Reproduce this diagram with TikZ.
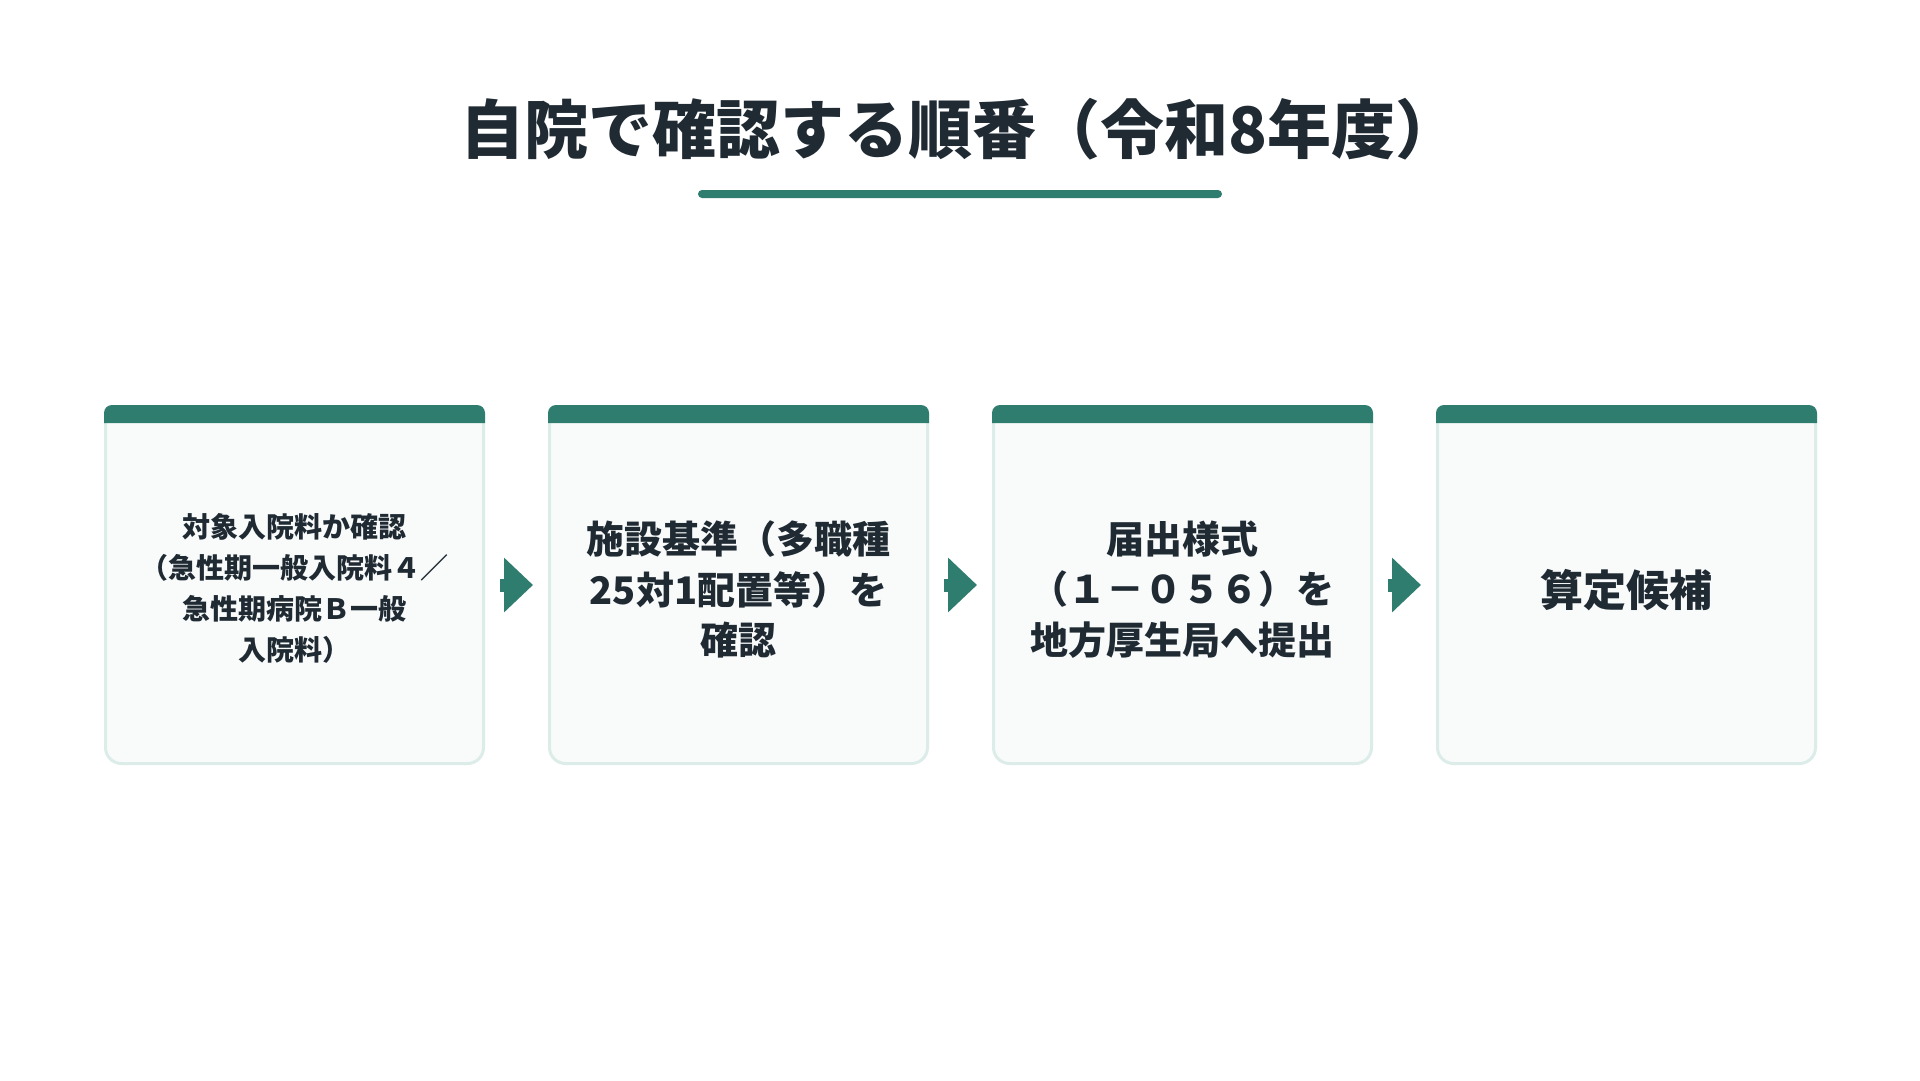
\documentclass[tikz,border=0pt]{standalone}
\usepackage{fontspec}
\setmainfont{Noto Sans CJK JP}
\usetikzlibrary{arrows.meta}
\definecolor{stepgreen}{HTML}{2E7D6E}
\definecolor{cardline}{HTML}{DCECE8}
\definecolor{cardfill}{HTML}{F9FBFB}
\definecolor{inkdark}{HTML}{1F2A33}
\newcommand{\boxsmall}{\bfseries\fontsize{28}{40.8}\selectfont}
\newcommand{\boxmid}{\bfseries\fontsize{38}{50.5}\selectfont}
\newcommand{\boxbig}{\bfseries\fontsize{43}{50}\selectfont}
\newcommand{\topgap}{\rule{0pt}{1.1em}}
\tikzstyle{headline} = [text=inkdark, font=\bfseries\fontsize{64}{76}\selectfont]
\tikzstyle{rulebar} = [rectangle, rounded corners=4pt, fill=stepgreen, minimum width=524pt, minimum height=8pt, inner sep=0pt]
\tikzstyle{card} = [rectangle, rounded corners=16pt, draw=cardline, line width=3pt, fill=cardfill,
minimum width=378pt, minimum height=357pt, inner sep=0pt, text=inkdark, align=center]
\tikzstyle{flow} = [draw=stepgreen, line width=13pt, -{Triangle[length=29pt, width=53pt]}, shorten <=15pt, shorten >=15pt]
\begin{document}
\begin{tikzpicture}[x=1pt, y=-1pt, node distance=444pt]
    \path[use as bounding box, fill=white] (0,0) rectangle (1920,1080);
    \node (title) [headline] at (960,129) {自院で確認する順番（令和8年度）};
    \node (titleRule) [rulebar] at (960,194) {};

    \node (checkFee) [card, font=\boxsmall] at (294.5,585) {\topgap 対象入院料か確認\\（急性期一般入院料４／\\急性期病院Ｂ一般\\入院料）};
    \node (checkStandard) [card, font=\boxmid, right of=checkFee] {\topgap 施設基準（多職種\\25対1配置等）を\\確認};
    \node (submitForm) [card, font=\boxmid, right of=checkStandard] {\topgap 届出様式\\（１－０５６）を\\地方厚生局へ提出};
    \node (candidate) [card, font=\boxbig, right of=submitForm] {\topgap 算定候補};

    % green header strip on each card
    \foreach \n in {checkFee, checkStandard, submitForm, candidate}
        \fill[stepgreen] ([yshift=-18pt]\n.north west) [rounded corners=8pt] -- (\n.north west)
        -- (\n.north east) [sharp corners] -- ([yshift=-18pt]\n.north east) -- cycle;

    \draw[flow] (checkFee) -- (checkStandard);
    \draw[flow] (checkStandard) -- (submitForm);
    \draw[flow] (submitForm) -- (candidate);
\end{tikzpicture}
\end{document}
